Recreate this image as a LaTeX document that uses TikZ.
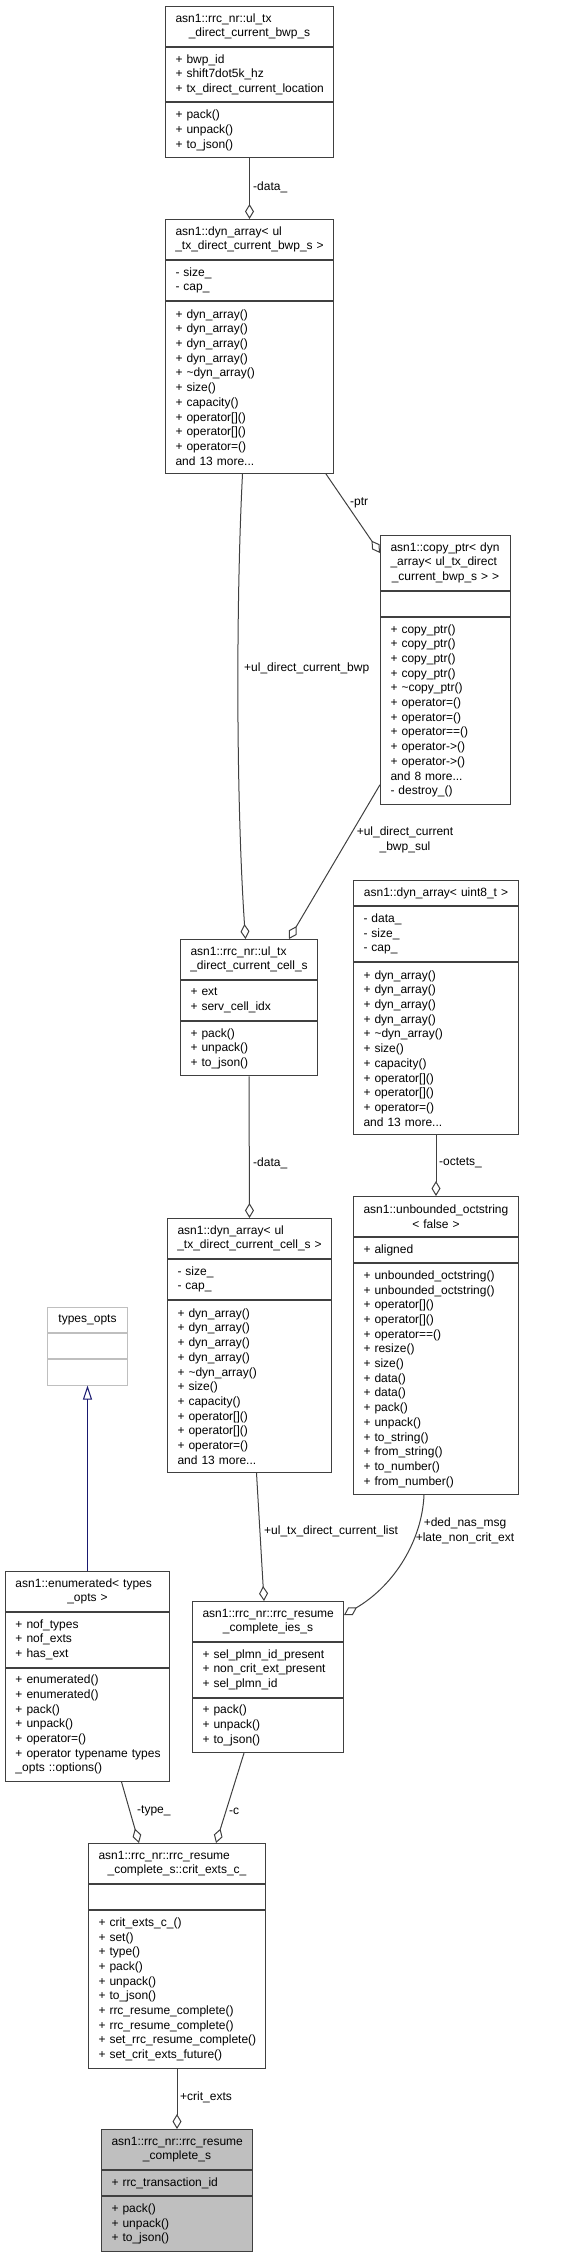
\documentclass[tikz,border=0pt]{standalone}
\usepackage{fontspec}
\setmainfont{Liberation Sans}
\usetikzlibrary{arrows.meta,positioning}
\definecolor{nodegray}{RGB}{191,191,191}
\definecolor{edgegray}{RGB}{64,64,64}
\definecolor{inhblue}{RGB}{25,25,112}
\newcommand{\tlft}[1]{\makebox[\hsize][l]{#1}}
\newcommand{\tctr}[1]{\makebox[\hsize][c]{#1}}

\begin{document}
\begin{tikzpicture}[x=1pt, y=-1pt,
        cls/.style={draw=edgegray, line width=1pt, fill=white, inner xsep=10pt, inner ysep=0pt, align=left, font=\fontsize{12}{14.7}\selectfont},
        rows/.style={minimum height={14.7pt*#1+10.5pt}},
        conn/.style={draw=edgegray, line width=1pt},
        agg/.style={conn, {Diamond[open, length=15pt, width=9pt]}-},
        inh/.style={draw=inhblue, line width=1pt, -{Triangle[open, length=14pt, width=9pt]}},
        lbl/.style={font=\fontsize{12}{14.7}\selectfont, inner sep=0pt, anchor=west, align=left}
    ]
        \useasboundingbox (0,0) rectangle (568,2256);

        % ul_tx_direct_current_bwp_s
        \node[cls, rows=2, text width=148pt, anchor=north west] (A-t) at (165,6) {\tlft{asn1::rrc\_nr::ul\_tx}\\\tctr{\_direct\_current\_bwp\_s}};
        \node[cls, rows=3, text width=148pt, below=0pt of A-t] (A-a) {+~bwp\_id\\+~shift7dot5k\_hz\\+~tx\_direct\_current\_location};
        \node[cls, rows=3, text width=148pt, below=0pt of A-a] (A-m) {+~pack()\\+~unpack()\\+~to\_json()};

        % dyn_array< ul_tx_direct_current_bwp_s >
        \node[cls, rows=2, text width=148pt, anchor=north west] (B-t) at (165,219) {\tlft{asn1::dyn\_array< ul}\\\tctr{\_tx\_direct\_current\_bwp\_s >}};
        \node[cls, rows=2, text width=148pt, below=0pt of B-t] (B-a) {-~size\_\\-~cap\_};
        \node[cls, rows=11, text width=148pt, below=0pt of B-a] (B-m) {+~dyn\_array()\\+~dyn\_array()\\+~dyn\_array()\\+~dyn\_array()\\+~\textasciitilde dyn\_array()\\+~size()\\+~capacity()\\+~operator[]()\\+~operator[]()\\+~operator=()\\and~13~more...};

        % copy_ptr
        \node[cls, rows=3, text width=110pt, anchor=north west] (C-t) at (380,535) {\tlft{asn1::copy\_ptr< dyn}\\\tlft{\_array< ul\_tx\_direct}\\\tctr{\_current\_bwp\_s > >}};
        \node[cls, rows=1, text width=110pt, below=0pt of C-t] (C-a) {};
        \node[cls, rows=12, text width=110pt, below=0pt of C-a] (C-m) {+~copy\_ptr()\\+~copy\_ptr()\\+~copy\_ptr()\\+~copy\_ptr()\\+~\textasciitilde copy\_ptr()\\+~operator=()\\+~operator=()\\+~operator==()\\+~operator->()\\+~operator->()\\and~8~more...\\-~destroy\_()};

        % ul_tx_direct_current_cell_s
        \node[cls, rows=2, text width=117pt, anchor=north west] (D-t) at (180,939) {\tlft{asn1::rrc\_nr::ul\_tx}\\\tctr{\_direct\_current\_cell\_s}};
        \node[cls, rows=2, text width=117pt, below=0pt of D-t] (D-a) {+~ext\\+~serv\_cell\_idx};
        \node[cls, rows=3, text width=117pt, below=0pt of D-a] (D-m) {+~pack()\\+~unpack()\\+~to\_json()};

        % dyn_array< uint8_t >
        \node[cls, rows=1, text width=145pt, anchor=north west] (E-t) at (353,880) {\tctr{asn1::dyn\_array< uint8\_t >}};
        \node[cls, rows=3, text width=145pt, below=0pt of E-t] (E-a) {-~data\_\\-~size\_\\-~cap\_};
        \node[cls, rows=11, text width=145pt, below=0pt of E-a] (E-m) {+~dyn\_array()\\+~dyn\_array()\\+~dyn\_array()\\+~dyn\_array()\\+~\textasciitilde dyn\_array()\\+~size()\\+~capacity()\\+~operator[]()\\+~operator[]()\\+~operator=()\\and~13~more...};

        % unbounded_octstring
        \node[cls, rows=2, text width=145pt, anchor=north west] (F-t) at (353,1196) {\tlft{asn1::unbounded\_octstring}\\\tctr{< false >}};
        \node[cls, rows=1, text width=145pt, below=0pt of F-t] (F-a) {+~aligned};
        \node[cls, rows=15, text width=145pt, below=0pt of F-a] (F-m) {+~unbounded\_octstring()\\+~unbounded\_octstring()\\+~operator[]()\\+~operator[]()\\+~operator==()\\+~resize()\\+~size()\\+~data()\\+~data()\\+~pack()\\+~unpack()\\+~to\_string()\\+~from\_string()\\+~to\_number()\\+~from\_number()};

        % dyn_array< ul_tx_direct_current_cell_s >
        \node[cls, rows=2, text width=144pt, anchor=north west] (G-t) at (167,1218) {\tlft{asn1::dyn\_array< ul}\\\tctr{\_tx\_direct\_current\_cell\_s >}};
        \node[cls, rows=2, text width=144pt, below=0pt of G-t] (G-a) {-~size\_\\-~cap\_};
        \node[cls, rows=11, text width=144pt, below=0pt of G-a] (G-m) {+~dyn\_array()\\+~dyn\_array()\\+~dyn\_array()\\+~dyn\_array()\\+~\textasciitilde dyn\_array()\\+~size()\\+~capacity()\\+~operator[]()\\+~operator[]()\\+~operator=()\\and~13~more...};

        % types_opts
        \node[cls, draw=nodegray, rows=1, text width=60pt, anchor=north west] (H-t) at (47,1307) {\tctr{types\_opts}};
        \node[cls, draw=nodegray, rows=1, text width=60pt, below=0pt of H-t] (H-a) {};
        \node[cls, draw=nodegray, rows=1, text width=60pt, below=0pt of H-a] (H-m) {};

        % enumerated< types_opts >
        \node[cls, rows=2, text width=144pt, anchor=north west] (I-t) at (5,1571) {\tlft{asn1::enumerated< types}\\\tctr{\_opts >}};
        \node[cls, rows=3, text width=144pt, below=0pt of I-t] (I-a) {+~nof\_types\\+~nof\_exts\\+~has\_ext};
        \node[cls, rows=7, text width=144pt, below=0pt of I-a] (I-m) {+~enumerated()\\+~enumerated()\\+~pack()\\+~unpack()\\+~operator=()\\\tlft{+ operator typename types}\\\_opts~::options()};

        % rrc_resume_complete_ies_s
        \node[cls, rows=2, text width=131pt, anchor=north west] (J-t) at (192,1601) {\tlft{asn1::rrc\_nr::rrc\_resume}\\\tctr{\_complete\_ies\_s}};
        \node[cls, rows=3, text width=131pt, below=0pt of J-t] (J-a) {+~sel\_plmn\_id\_present\\+~non\_crit\_ext\_present\\+~sel\_plmn\_id};
        \node[cls, rows=3, text width=131pt, below=0pt of J-a] (J-m) {+~pack()\\+~unpack()\\+~to\_json()};

        % crit_exts_c_
        \node[cls, rows=2, text width=157pt, anchor=north west] (K-t) at (88,1843) {\tlft{asn1::rrc\_nr::rrc\_resume}\\\tctr{\_complete\_s::crit\_exts\_c\_}};
        \node[cls, rows=1, text width=157pt, below=0pt of K-t] (K-a) {};
        \node[cls, rows=10, text width=157pt, below=0pt of K-a] (K-m) {+~crit\_exts\_c\_()\\+~set()\\+~type()\\+~pack()\\+~unpack()\\+~to\_json()\\+~rrc\_resume\_complete()\\+~rrc\_resume\_complete()\\\tlft{+ set\_rrc\_resume\_complete()}\\+~set\_crit\_exts\_future()};

        % rrc_resume_complete_s
        \node[cls, fill=nodegray, rows=2, text width=131pt, anchor=north west] (L-t) at (101,2129) {\tlft{asn1::rrc\_nr::rrc\_resume}\\\tctr{\_complete\_s}};
        \node[cls, fill=nodegray, rows=1, text width=131pt, below=0pt of L-t] (L-a) {+~rrc\_transaction\_id};
        \node[cls, fill=nodegray, rows=3, text width=131pt, below=0pt of L-a] (L-m) {+~pack()\\+~unpack()\\+~to\_json()};

        % 连线
        \draw[agg] (B-t.north) -- (A-m.south);
        \draw[agg] ([yshift=-18pt]C-t.north west) -- ([xshift=-8pt]B-m.south east);
        \draw[agg] ([xshift=-3.5pt]D-t.north) .. controls (236,800) and (236,600) .. ([xshift=-7pt]B-m.south);
        \draw[agg] ([xshift=40pt]D-t.north) -- ([yshift=20pt]C-m.south west);
        \draw[agg] (G-t.north) -- (D-m.south);
        \draw[agg] (F-t.north) -- (E-m.south);
        \draw[agg] ([xshift=-4pt]J-t.north) -- ([xshift=7pt]G-m.south);
        \draw[agg] ([yshift=-14pt]J-t.north east) .. controls (395,1585) and (422,1540) .. ([xshift=-12pt]F-m.south);
        \draw[inh] (I-t.north) -- (H-m.south);
        \draw[agg] ([xshift=-38pt]K-t.north) -- ([xshift=34pt]I-m.south);
        \draw[agg] ([xshift=39pt]K-t.north) -- ([xshift=-24pt]J-m.south);
        \draw[agg] (L-t.north) -- (K-m.south);

        % 标签
        \node[lbl] (l-data) at (253,187) {-data\_};
        \node[lbl] (l-ptr) at (350,503) {-ptr};
        \node[lbl] (l-bwp) at (244,668) {+ul\_direct\_current\_bwp};
        \node[lbl, anchor=center, align=center] (l-sul) at (405,840) {+ul\_direct\_current\\\_bwp\_sul};
        \node[lbl] (l-cell) at (253,1163) {-data\_};
        \node[lbl] (l-oct) at (439,1163) {-octets\_};
        \node[lbl] (l-list) at (264,1531) {+ul\_tx\_direct\_current\_list};
        \node[lbl, anchor=center, align=center] (l-nas) at (465,1531) {+ded\_nas\_msg\\+late\_non\_crit\_ext};
        \node[lbl] (l-type) at (137,1811) {-type\_};
        \node[lbl] (l-c) at (229,1811) {-c};
        \node[lbl] (l-crit) at (180,2097) {+crit\_exts};
    \end{tikzpicture}
\end{document}
